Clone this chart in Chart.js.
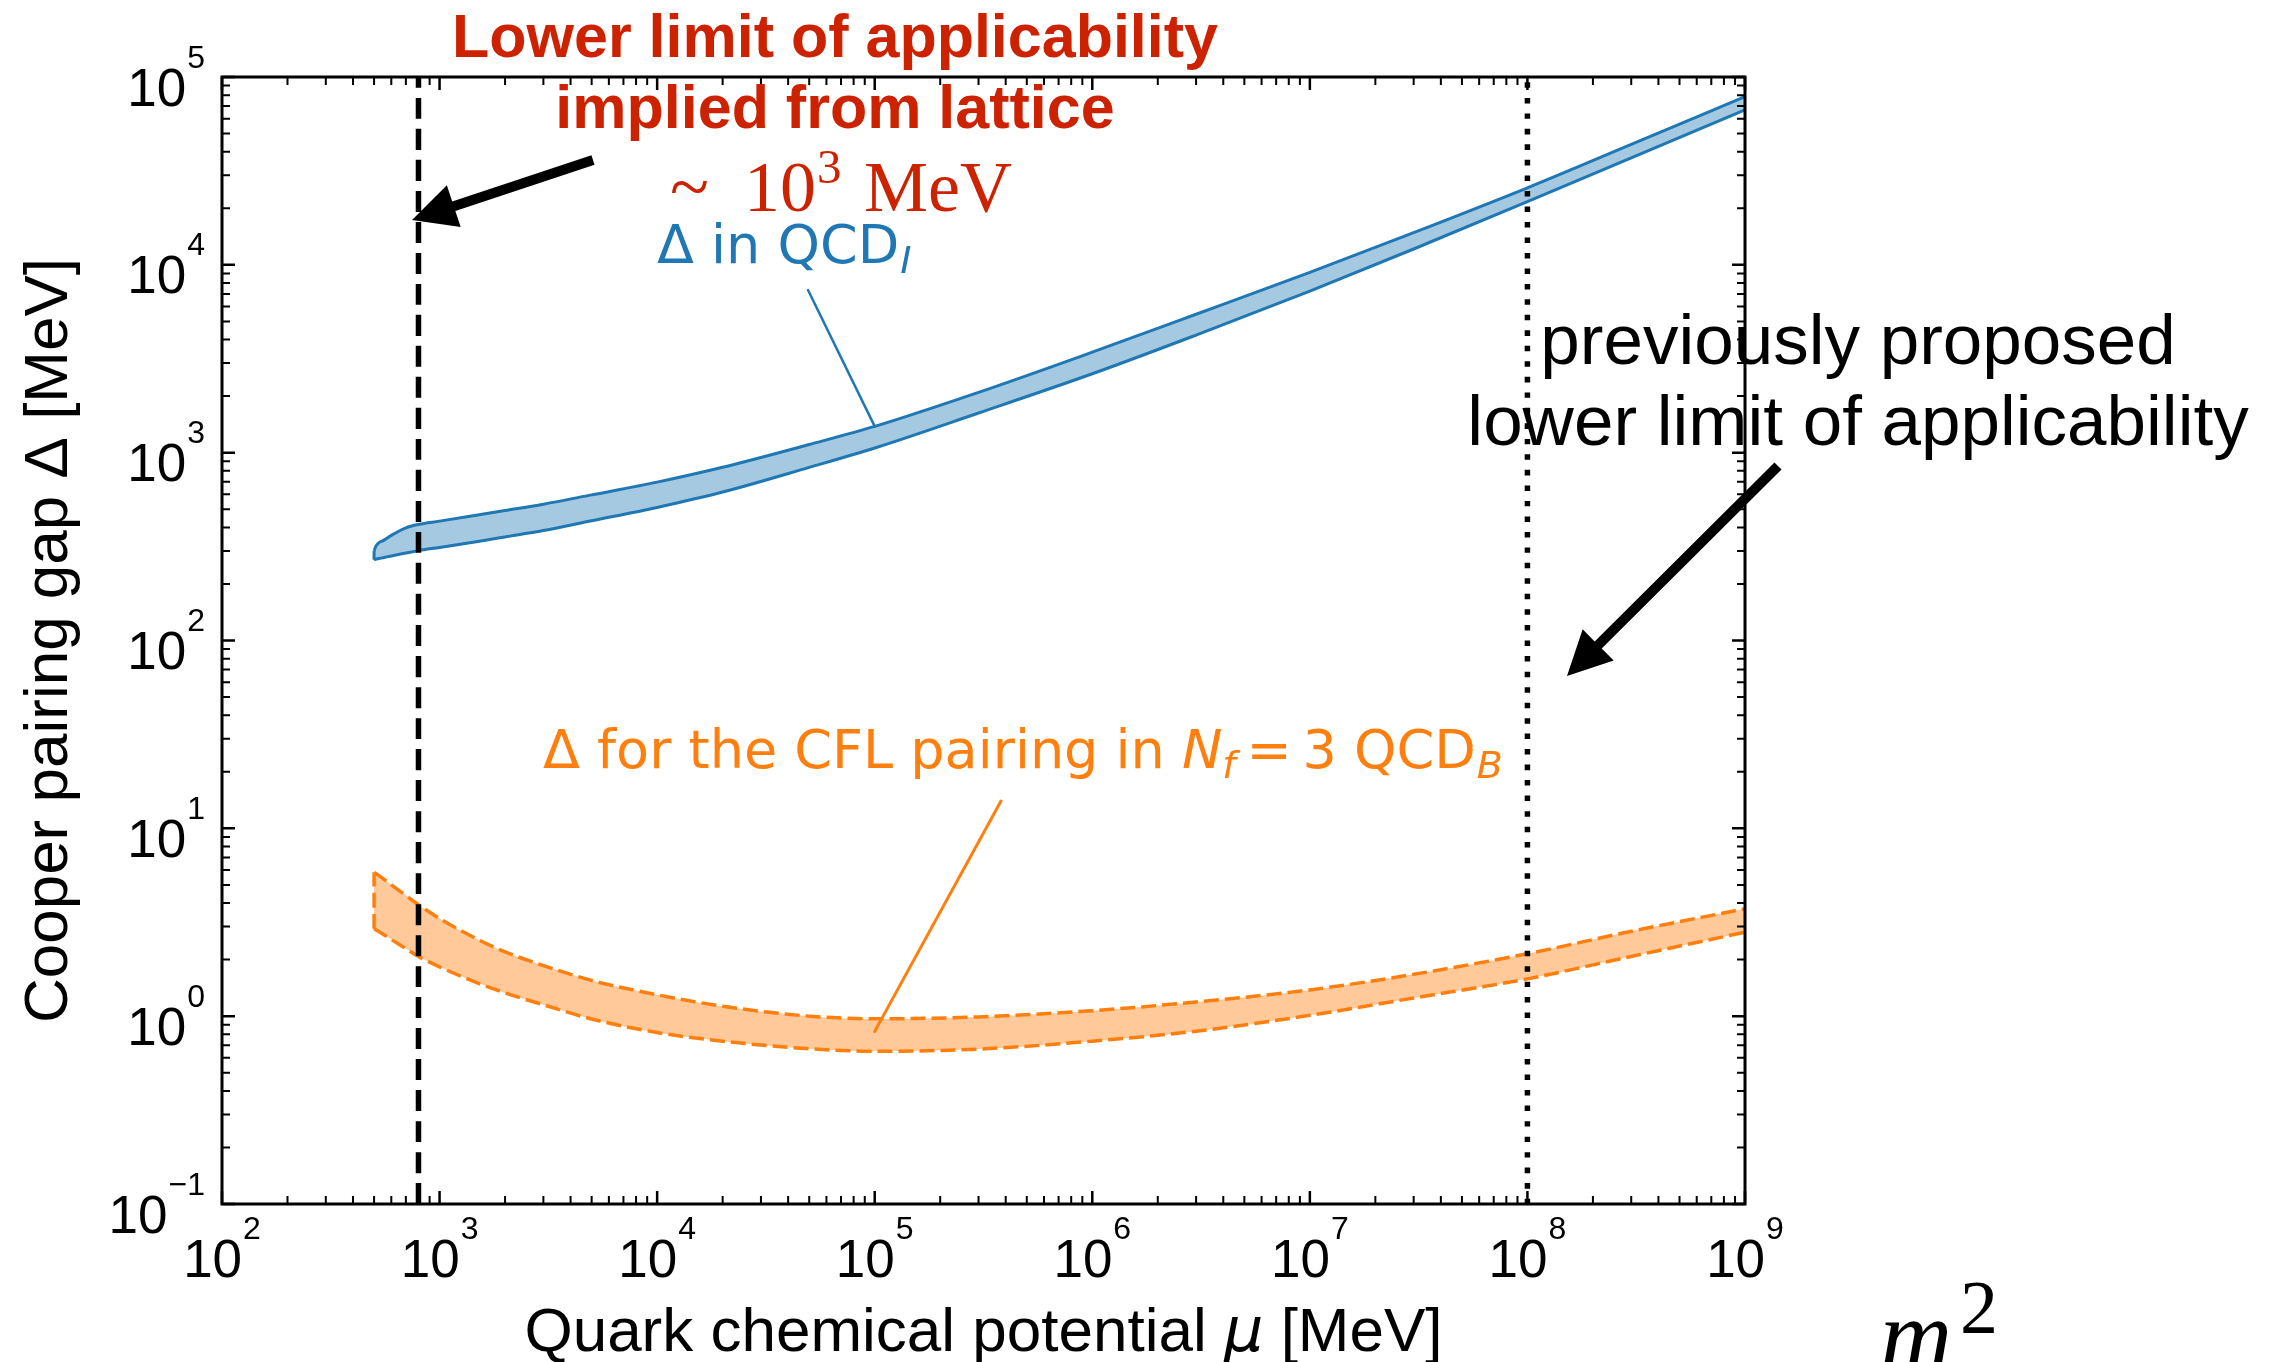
<!DOCTYPE html>
<html>
<head>
<meta charset="utf-8">
<title>Cooper pairing gap vs quark chemical potential</title>
<script src="https://cdn.jsdelivr.net/npm/chart.js@4.4.0/dist/chart.umd.min.js"></script>
<style>
  html, body { margin: 0; padding: 0; background: #fff; }
  #gap { display: block; }
</style>
</head>
<body>
<canvas id="gap" width="2274" height="1362"></canvas>
<script>
"use strict";

// Δ in QCD_I: chemical potential grid [MeV] and band edges [MeV]
const MU_I = [500, 510, 525, 550, 600, 700, 800, 1000, 1500, 2000, 3000, 5000,
  1e4, 2e4, 5e4, 1e5, 3e5, 1e6, 3e6, 1e7, 3e7, 1e8, 3e8, 1e9];
const GAP_I_UPPER = [300, 318, 331, 340, 363, 398, 415, 432, 466, 492, 532, 596,
  697, 836, 1105, 1380, 2094, 3428, 5458, 9120, 14830, 25700, 43750, 78700];
const GAP_I_LOWER = [269, 271, 273, 276, 282, 292, 301, 313, 337, 356, 385, 434,
  511, 617, 835, 1059, 1626, 2630, 4227, 7244, 12140, 21680, 37070, 66830];

// CFL pairing gap, N_f = 3 QCD_B: grid [MeV] and band edges [MeV]
const MU_B = [500, 550, 600, 700, 800, 1000, 1500, 2000, 3000, 5000,
  1e4, 2e4, 5e4, 1e5, 3e5, 1e6, 3e6, 1e7, 3e7, 1e8, 3e8, 1e9];
const GAP_B_UPPER = [5.83, 5.40, 5.00, 4.39, 3.92, 3.31, 2.56, 2.20, 1.86, 1.55,
  1.30, 1.13, 1.00, 0.968, 0.991, 1.07, 1.19, 1.38, 1.67, 2.15, 2.83, 3.73];
const GAP_B_LOWER = [2.92, 2.73, 2.56, 2.29, 2.08, 1.83, 1.50, 1.33, 1.15, 0.966,
  0.818, 0.736, 0.671, 0.650, 0.668, 0.736, 0.832, 1.01, 1.25, 1.58, 2.08, 2.80];

// lower limits of applicability [MeV]
const MU_LATTICE = 800;
const MU_PREVIOUS = 1e8;

// decade exponents on each axis
const X_EXP = [2, 3, 4, 5, 6, 7, 8, 9];
const Y_EXP = [-1, 0, 1, 2, 3, 4, 5];

const BLUE = "#1f77b4";
const ORANGE = "#ff7f0e";
const RED = "#cc2200";
const SANS = "'Liberation Sans', Arial, sans-serif";
const DEJAVU = "'DejaVu Sans', sans-serif";
const SERIF = "'Liberation Serif', 'Times New Roman', serif";

const Y_MIN = 10 ** Y_EXP[0];
const Y_MAX = 10 ** Y_EXP[Y_EXP.length - 1];

const pts = (xs, ys) => xs.map((x, i) => ({ x, y: ys[i] }));
const vline = (mu) => [{ x: mu, y: Y_MIN }, { x: mu, y: Y_MAX }];
const leftEdge = (xs, lo, hi) => [{ x: xs[0], y: lo[0] }, { x: xs[0], y: hi[0] }];

// text helpers: runs of differently styled pieces drawn one after another
function runsWidth(ctx, runs) {
  return runs.reduce((w, r) => {
    ctx.font = r.font;
    return w + ctx.measureText(r.text).width + (r.gap || 0);
  }, 0);
}

function drawRuns(ctx, runs, x, y) {
  runs.forEach((r) => {
    ctx.font = r.font;
    x += r.gap || 0;
    ctx.fillText(r.text, x, y + (r.dy || 0));
    x += ctx.measureText(r.text).width;
  });
}

function powRuns(e) {
  const sup = e < 0 ? `\u2212${-e}` : String(e);
  return [
    { text: "10", font: `53px ${SANS}` },
    { text: sup, font: `32px ${SANS}`, dy: -38, gap: 1 },
  ];
}

function arrow(ctx, x0, y0, x1, y1) {
  const len = Math.hypot(x1 - x0, y1 - y0);
  const ux = (x1 - x0) / len, uy = (y1 - y0) / len;
  const nx = -uy, ny = ux;
  const sw = 5, hw = 22, hl = 44;
  const bx = x1 - ux * hl, by = y1 - uy * hl;
  ctx.beginPath();
  ctx.moveTo(x0 + nx * sw, y0 + ny * sw);
  ctx.lineTo(bx + nx * sw, by + ny * sw);
  ctx.lineTo(bx + nx * hw, by + ny * hw);
  ctx.lineTo(x1, y1);
  ctx.lineTo(bx - nx * hw, by - ny * hw);
  ctx.lineTo(bx - nx * sw, by - ny * sw);
  ctx.lineTo(x0 - nx * sw, y0 - ny * sw);
  ctx.closePath();
  ctx.fill();
}

function line(ctx, x0, y0, x1, y1, color, width) {
  ctx.strokeStyle = color;
  ctx.lineWidth = width;
  ctx.beginPath();
  ctx.moveTo(x0, y0);
  ctx.lineTo(x1, y1);
  ctx.stroke();
}

// frame, inward ticks on all four sides, power-of-ten labels, titles
const axesFrame = {
  id: "axesFrame",
  afterDatasetsDraw(chart) {
    const ctx = chart.ctx;
    const { left, right, top, bottom } = chart.chartArea;
    const xs = chart.scales.x, ys = chart.scales.y;
    const MAJ = 13, MIN = 8;

    ctx.save();
    ctx.strokeStyle = "#000";
    ctx.lineCap = "butt";

    const tickX = (x, len, w) => {
      ctx.lineWidth = w;
      ctx.beginPath();
      ctx.moveTo(x, bottom); ctx.lineTo(x, bottom - len);
      ctx.moveTo(x, top); ctx.lineTo(x, top + len);
      ctx.stroke();
    };
    const tickY = (y, len, w) => {
      ctx.lineWidth = w;
      ctx.beginPath();
      ctx.moveTo(left, y); ctx.lineTo(left + len, y);
      ctx.moveTo(right, y); ctx.lineTo(right - len, y);
      ctx.stroke();
    };

    X_EXP.forEach((e, i) => {
      tickX(xs.getPixelForValue(10 ** e), MAJ, 2.5);
      if (i < X_EXP.length - 1) {
        for (let m = 2; m <= 9; m++) tickX(xs.getPixelForValue(m * 10 ** e), MIN, 2);
      }
    });
    Y_EXP.forEach((e, i) => {
      tickY(ys.getPixelForValue(10 ** e), MAJ, 2.5);
      if (i < Y_EXP.length - 1) {
        for (let m = 2; m <= 9; m++) tickY(ys.getPixelForValue(m * 10 ** e), MIN, 2);
      }
    });

    ctx.lineWidth = 3;
    ctx.strokeRect(left, top, right - left, bottom - top);

    ctx.fillStyle = "#000";
    ctx.textAlign = "left";
    ctx.textBaseline = "alphabetic";
    X_EXP.forEach((e) => {
      const runs = powRuns(e);
      const w = runsWidth(ctx, runs);
      drawRuns(ctx, runs, xs.getPixelForValue(10 ** e) - w / 2, bottom + 73);
    });
    Y_EXP.forEach((e) => {
      const runs = powRuns(e);
      const w = runsWidth(ctx, runs);
      drawRuns(ctx, runs, left - 17 - w, ys.getPixelForValue(10 ** e) + 28.5);
    });

    // axis titles
    const xTitle = [
      { text: "Quark chemical potential ", font: `62px ${SANS}` },
      { text: "\u03bc", font: `italic 62px ${DEJAVU}` },
      { text: " [MeV]", font: `62px ${SANS}` },
    ];
    drawRuns(ctx, xTitle, (left + right) / 2 - runsWidth(ctx, xTitle) / 2, bottom + 147);

    ctx.save();
    ctx.translate(67, (top + bottom) / 2);
    ctx.rotate(-Math.PI / 2);
    ctx.font = `62px ${SANS}`;
    ctx.textAlign = "center";
    ctx.fillText("Cooper pairing gap \u0394 [MeV]", 0, 0);
    ctx.restore();

    ctx.restore();
  },
};

// labels, leader lines and arrows around the plot
const annotations = {
  id: "annotations",
  afterDraw(chart) {
    const ctx = chart.ctx;
    const xs = chart.scales.x, ys = chart.scales.y;
    const iAt = MU_I.indexOf(1e5);

    ctx.save();
    ctx.textBaseline = "alphabetic";
    ctx.lineCap = "round";

    // Δ in QCD_I
    line(ctx, 808, 290, xs.getPixelForValue(1e5), ys.getPixelForValue(GAP_I_UPPER[iAt]), BLUE, 2.5);
    ctx.fillStyle = BLUE;
    ctx.textAlign = "left";
    drawRuns(ctx, [
      { text: "\u0394 in QCD", font: `54px ${DEJAVU}` },
      { text: "I", font: `italic 38px ${DEJAVU}`, dy: 10, gap: 1 },
    ], 657, 263);

    // Δ for CFL pairing
    line(ctx, 1001, 801, xs.getPixelForValue(1e5), ys.getPixelForValue(0.83), ORANGE, 3);
    ctx.fillStyle = ORANGE;
    drawRuns(ctx, [
      { text: "\u0394 for the CFL pairing in ", font: `54px ${DEJAVU}` },
      { text: "N", font: `italic 54px ${DEJAVU}` },
      { text: "f", font: `italic 38px ${DEJAVU}`, dy: 10 },
      { text: "\u2009=\u20093 QCD", font: `54px ${DEJAVU}` },
      { text: "B", font: `italic 38px ${DEJAVU}`, dy: 10, gap: 1 },
    ], 543, 768);

    // lattice-implied limit
    ctx.fillStyle = RED;
    ctx.textAlign = "center";
    ctx.font = `bold 61px ${SANS}`;
    ctx.fillText("Lower limit of applicability", 835, 57);
    ctx.fillText("implied from lattice", 835, 128);
    ctx.textAlign = "left";
    ctx.font = `72px ${SERIF}`;
    ctx.fillText("~", 670, 211);
    ctx.fillText("10", 744, 211);
    ctx.font = `49px ${SERIF}`;
    ctx.fillText("3", 817, 183);
    ctx.font = `72px ${SERIF}`;
    ctx.fillText("MeV", 864, 211);

    // previously proposed limit
    ctx.fillStyle = "#000";
    ctx.textAlign = "center";
    ctx.font = `71px ${SANS}`;
    ctx.fillText("previously proposed", 1858, 364);
    ctx.fillText("lower limit of applicability", 1858, 445);

    arrow(ctx, 593, 160, 412, 220);
    arrow(ctx, 1778, 466, 1567, 676);

    // m^2
    ctx.textAlign = "left";
    ctx.font = `italic 100px ${SERIF}`;
    ctx.fillText("m", 1880, 1368);
    ctx.font = `76px ${SERIF}`;
    ctx.fillText("2", 1960, 1333);

    ctx.restore();
  },
};

const base = { pointRadius: 0, fill: false, cubicInterpolationMode: "monotone" };

const datasets = [
  { ...base, data: vline(MU_LATTICE), borderColor: "#000", borderWidth: 5.5, borderDash: [21, 10] },
  { ...base, data: vline(MU_PREVIOUS), borderColor: "#000", borderWidth: 5.5, borderDash: [5.5, 10] },
  { ...base, data: leftEdge(MU_I, GAP_I_LOWER, GAP_I_UPPER), borderColor: BLUE, borderWidth: 3 },
  {
    ...base, data: pts(MU_I, GAP_I_UPPER), borderColor: BLUE, borderWidth: 3,
    fill: "+1", backgroundColor: "rgba(31,119,180,0.4)",
  },
  { ...base, data: pts(MU_I, GAP_I_LOWER), borderColor: BLUE, borderWidth: 3 },
  {
    ...base, data: leftEdge(MU_B, GAP_B_LOWER, GAP_B_UPPER), borderColor: ORANGE,
    borderWidth: 3.5, borderDash: [15, 6],
  },
  {
    ...base, data: pts(MU_B, GAP_B_UPPER), borderColor: ORANGE, borderWidth: 3.5,
    borderDash: [15, 6], fill: "+1", backgroundColor: "rgba(255,127,14,0.42)",
  },
  { ...base, data: pts(MU_B, GAP_B_LOWER), borderColor: ORANGE, borderWidth: 3.5, borderDash: [15, 6] },
];

new Chart(document.getElementById("gap"), {
  type: "line",
  data: { datasets },
  options: {
    responsive: false,
    maintainAspectRatio: false,
    devicePixelRatio: 1,
    animation: false,
    events: [],
    layout: { padding: { left: 222, top: 77, right: 529, bottom: 158 } },
    plugins: {
      legend: { display: false },
      tooltip: { enabled: false },
      filler: { propagate: false, drawTime: "beforeDatasetsDraw" },
    },
    scales: {
      x: { type: "logarithmic", min: 10 ** X_EXP[0], max: 10 ** X_EXP[X_EXP.length - 1], display: false },
      y: { type: "logarithmic", min: Y_MIN, max: Y_MAX, display: false },
    },
  },
  plugins: [axesFrame, annotations],
});
</script>
</body>
</html>
